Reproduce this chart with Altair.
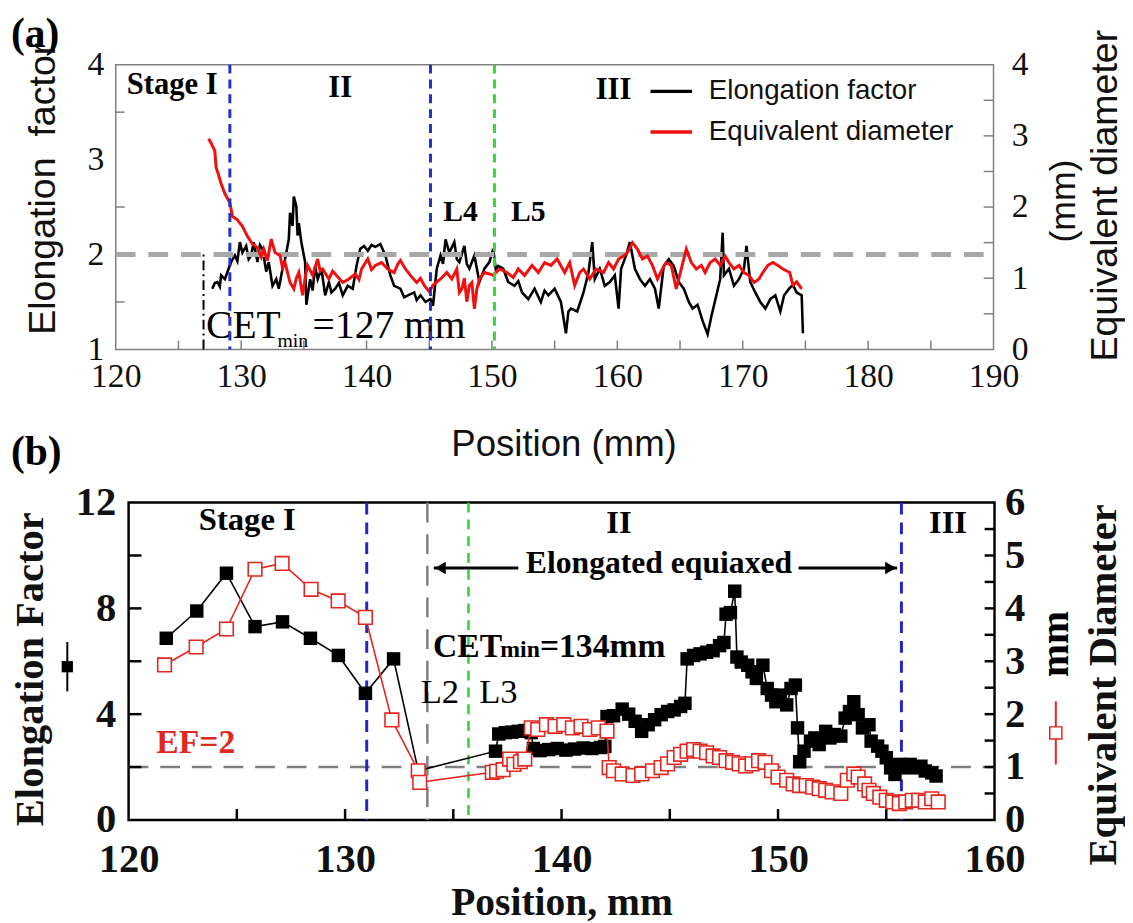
import altair as alt
import pandas as pd

SERIF = "Liberation Serif"
SANS = "Liberation Sans"

# ---------------- Panel (a) data ----------------
# Elongation factor (left axis) : (position mm, EF)
a_ef = [(127.7,1.64),(127.9,1.70),(128.1,1.71),(128.3,1.66),(128.4,1.78),(128.7,1.74),(129.0,1.85),(129.2,1.92),
        (129.5,1.99),(129.7,1.93),(129.9,2.13),(130.1,2.02),(130.4,2.09),(130.6,1.95),(130.8,1.99),(131.0,2.13),
        (131.3,1.92),(131.5,2.10),(131.7,2.06),(132.0,1.82),(132.2,1.92),(132.5,1.67),(132.8,1.74),(133.0,1.64),
        (133.3,1.85),(133.5,1.95),(133.8,2.16),(133.9,2.44),(134.1,2.30),(134.2,2.61),(134.4,2.51),(134.5,2.20),
        (134.6,2.33),(134.8,2.13),(135.1,1.92),(135.2,1.47),(135.5,1.74),(135.7,1.62),(135.9,1.88),(136.1,1.74),
        (136.4,1.85),(136.7,1.57),(137.0,1.71),(137.2,1.60),(137.5,1.64),(137.8,1.70),(138.1,1.57),(138.3,1.62),
        (138.5,1.67),(138.9,1.64),(139.2,1.88),(139.5,2.06),(139.8,2.09),(140.1,2.04),(140.4,2.10),(140.7,2.08),
        (141.1,2.11),(141.5,1.99),(141.9,1.78),(142.2,1.67),(142.7,1.64),(143.0,1.55),(143.3,1.57),(143.8,1.60),
        (144.0,1.52),(144.3,1.57),(144.7,1.50),(145.1,1.53),(145.3,1.46),(145.6,1.85),(145.9,1.99),(146.1,1.90),
        (146.3,2.16),(146.6,2.02),(147.0,2.13),(147.2,1.95),(147.4,1.92),(147.8,2.09),(148.0,1.90),(148.2,1.85),
        (148.6,1.99),(149.0,1.71),(149.4,1.85),(149.8,1.92),(150.1,2.06),(150.3,1.85),(150.5,1.88),(150.9,1.85),
        (151.3,1.71),(151.8,1.67),(152.1,1.72),(152.4,1.60),(152.9,1.53),(153.4,1.64),(153.9,1.50),(154.2,1.62),
        (154.5,1.57),(155.0,1.64),(155.5,1.50),(155.9,1.17),(156.1,1.40),(156.3,1.43),(156.8,1.40),(157.3,1.60),
        (157.7,1.81),(158.0,2.13),(158.2,1.74),(158.6,1.85),(159.0,1.67),(159.4,1.71),(159.8,1.78),(160.1,1.43),
        (160.3,1.85),(160.7,1.99),(161.0,2.13),(161.4,1.85),(161.8,1.74),(162.2,1.67),(162.6,1.74),(163.0,1.64),
        (163.3,1.43),(163.7,1.88),(164.1,1.95),(164.5,1.88),(164.9,1.71),(165.3,1.64),(165.7,1.50),(166.0,1.43),
        (166.4,1.47),(166.8,1.30),(167.2,1.16),(167.5,1.35),(167.9,1.57),(168.2,1.74),(168.4,2.23),(168.5,1.78),
        (168.9,1.85),(169.3,1.67),(169.7,1.74),(170.1,1.85),(170.3,2.09),(170.6,1.71),(171.0,1.60),(171.4,1.50),
        (171.8,1.43),(172.2,1.53),(172.6,1.57),(173.0,1.40),(173.3,1.57),(173.7,1.64),(174.0,1.68),(174.3,1.60),
        (174.7,1.57),(174.8,1.17)]
# Equivalent diameter (right axis, mm)
a_ed = [(127.4,2.96),(127.6,2.90),(127.9,2.79),(128.0,2.56),(128.2,2.45),(128.4,2.33),(128.7,2.19),(129.1,2.06),
        (129.3,1.87),(129.7,1.82),(130.1,1.73),(130.5,1.59),(130.9,1.48),(131.3,1.43),(131.6,1.30),(131.8,1.41),
        (132.1,1.25),(132.4,1.55),(132.7,1.36),(133.1,1.32),(133.3,1.15),(133.5,1.22),(133.9,0.94),(134.2,0.85),
        (134.4,1.00),(134.6,1.08),(134.9,0.76),(135.1,1.00),(135.3,1.18),(135.7,1.04),(136.1,1.27),(136.3,1.10),
        (136.5,1.13),(137.0,0.99),(137.3,1.10),(137.5,1.06),(138.1,0.94),(138.6,0.99),(139.1,1.06),(139.4,0.98),
        (139.6,1.13),(140.1,1.27),(140.4,1.12),(140.7,1.18),(141.2,1.22),(141.7,1.13),(142.2,1.08),(142.5,1.20),
        (142.7,1.25),(143.1,1.13),(143.5,1.04),(144.0,0.94),(144.3,1.00),(144.6,0.90),(145.0,0.81),(145.3,0.90),
        (145.9,0.99),(146.4,1.08),(146.8,0.99),(147.2,1.13),(147.4,0.80),(147.6,0.85),(147.8,1.00),(148.0,0.67),
        (148.2,0.90),(148.4,0.94),(148.6,0.57),(148.8,0.85),(149.0,0.99),(149.4,1.08),(149.8,1.06),(150.1,1.04),
        (150.6,1.13),(151.2,1.08),(151.7,1.01),(152.1,1.13),(152.6,1.04),(153.2,1.18),(153.7,1.08),(154.2,1.22),
        (154.7,1.18),(155.2,1.27),(155.8,1.08),(156.2,1.22),(156.6,0.90),(157.0,1.08),(157.3,1.13),(157.8,0.99),
        (158.3,1.13),(158.9,1.08),(159.3,1.22),(159.7,1.13),(160.1,1.27),(160.5,1.31),(160.8,1.36),(161.2,1.50),
        (161.6,1.41),(162.0,1.27),(162.4,1.31),(162.8,1.18),(163.2,0.99),(163.6,1.13),(163.9,1.22),(164.3,1.18),
        (164.7,0.85),(165.1,1.13),(165.5,1.41),(165.9,1.22),(166.3,1.13),(166.7,1.18),(167.0,1.08),(167.4,1.22),
        (167.8,1.27),(168.2,1.18),(168.6,1.31),(168.9,1.22),(169.3,1.13),(169.7,1.18),(170.1,1.08),(170.5,1.04),
        (170.9,0.94),(171.3,0.99),(171.6,1.08),(172.0,1.18),(172.4,1.22),(172.8,1.18),(173.2,1.13),(173.75,1.08),
        (174.0,0.90),(174.3,0.95),(174.7,0.85)]

a_series = ["Elongation factor", "Equivalent diameter"]
a_x_labels = [120, 130, 140, 150, 160, 170, 180, 190]
a_yl_labels = [1, 2, 3, 4]
a_yr_labels = [0, 1, 2, 3, 4]
a_x_ticks = [125, 130, 135, 140, 145, 150, 155, 160, 165, 170, 175, 180, 185]
a_yl_ticks = [1.5, 2.5, 3.5]
a_yr_ticks = [0.5, 1, 1.5, 2, 2.5, 3, 3.5]
a_blue = [129.1, 145.1]
a_green = [150.2]
a_cet = 127.0
a_ef_ref = 2

# ---------------- Panel (b) data ----------------
b_ef = [(121.74,6.87),(123.15,7.90),(124.52,9.33),(125.84,7.31),(127.11,7.49),(128.40,6.87),(129.69,6.22),
        (130.94,4.79),(132.24,6.09),(133.38,1.86),(136.95,2.60),(137.1,3.25),(137.4,3.30),(137.7,3.32),(138.0,3.35),
        (138.3,3.38),(138.6,3.30),(138.7,2.70),(139.0,2.62),(139.4,2.66),(139.8,2.70),(140.2,2.64),(140.6,2.68),
        (141.0,2.72),(141.4,2.70),(141.8,2.74),(142.0,2.78),(142.1,3.91),(142.4,3.94),(142.8,4.19),(143.1,4.00),
        (143.4,3.73),(143.7,3.35),(144.0,3.60),(144.3,3.79),(144.6,3.98),(144.9,4.10),(145.2,4.16),(145.5,4.29),
        (145.7,4.41),(145.8,6.09),(146.1,6.22),(146.4,6.28),(146.7,6.34),(147.0,6.40),(147.3,6.59),(147.5,6.71),
        (147.6,7.78),(147.8,7.84),(148.0,8.65),(148.1,6.16),(148.3,5.97),(148.6,5.85),(148.8,5.60),(149.0,5.35),
        (149.3,5.85),(149.5,4.97),(149.7,4.72),(149.9,4.47),(150.1,4.72),(150.4,4.35),(150.6,4.97),(150.8,5.10),
        (150.9,3.48),(151.0,2.20),(151.2,2.60),(151.5,2.98),(151.7,3.10),(151.9,2.85),(152.2,3.35),(152.4,3.10),
        (152.6,3.23),(152.9,3.17),(153.1,3.85),(153.3,4.10),(153.5,4.47),(153.7,3.98),(153.9,3.48),(154.2,3.60),
        (154.3,2.98),(154.6,2.79),(154.8,2.60),(155.0,2.35),(155.2,1.97),(155.4,1.72),(155.6,2.10),(155.8,1.97),
        (156.1,2.10),(156.4,1.97),(156.6,2.03),(156.8,1.85),(157.1,1.78),(157.3,1.66)]
b_ed = [(121.66,2.93),(123.12,3.27),(124.52,3.61),(125.84,4.74),(127.09,4.85),(128.43,4.36),(129.68,4.14),
        (130.94,3.83),(132.16,1.89),(133.38,0.93),(133.45,0.71),(136.8,0.90),(137.0,0.92),(137.3,0.95),(137.6,1.15),
        (137.8,1.05),(138.1,1.10),(138.3,1.15),(138.6,1.74),(138.9,1.71),(139.3,1.80),(139.7,1.77),(140.1,1.80),
        (140.5,1.74),(140.9,1.77),(141.3,1.71),(141.7,1.74),(142.1,1.68),(142.2,0.99),(142.4,0.93),(142.8,0.87),
        (143.3,0.84),(143.7,0.87),(144.2,0.93),(144.6,0.99),(144.9,1.06),(145.2,1.18),(145.5,1.24),(145.8,1.30),
        (146.1,1.33),(146.4,1.30),(146.7,1.27),(147.0,1.21),(147.3,1.18),(147.6,1.12),(147.9,1.09),(148.2,1.06),
        (148.5,1.02),(148.8,1.06),(149.1,1.12),(149.4,1.09),(149.7,0.93),(150.0,0.81),(150.4,0.75),(150.7,0.68),
        (151.0,0.65),(151.3,0.65),(151.6,0.62),(151.9,0.59),(152.2,0.56),(152.5,0.53),(152.9,0.50),(153.2,0.75),
        (153.5,0.87),(153.7,0.81),(154.0,0.68),(154.2,0.56),(154.4,0.50),(154.7,0.43),(155.0,0.37),(155.3,0.34),
        (155.6,0.31),(155.9,0.34),(156.2,0.37),(156.5,0.37),(156.8,0.34),(157.1,0.40),(157.4,0.34)]

b_x_labels = [120, 130, 140, 150, 160]
b_yl_labels = [0, 4, 8, 12]
b_yr_labels = [0, 1, 2, 3, 4, 5, 6]
b_x_ticks = [125, 130, 135, 140, 145, 150, 155]
b_yl_ticks = [2, 4, 6, 8, 10]
b_yr_ticks = [0.5, 1, 1.5, 2, 2.5, 3, 3.5, 4, 4.5, 5, 5.5]
b_blue = [131.0, 155.7]
b_green = [135.7]
b_cet = [133.8]
b_ef_ref = 2

# ---------------- geometry ----------------
# both panels share the same group origin; panel (a) frame starts SHIFT px further left
SHIFT = 13
WA, HA = 875, 288          # group width of (a); x range runs from -SHIFT to WA
WB, HB = 876, 321

xa = alt.Scale(domain=[120, 190], range=[-SHIFT, WA], nice=False, zero=False)
yal = alt.Scale(domain=[1, 4], nice=False, zero=False)
yar = alt.Scale(domain=[0, 4], nice=False, zero=False)
xb = alt.Scale(domain=[120, 160], nice=False, zero=False)
ybl = alt.Scale(domain=[0, 12], nice=False, zero=False)
ybr = alt.Scale(domain=[0, 6], nice=False, zero=False)

one = pd.DataFrame({"k": [0]})


def base_axis(**kw):
    d = dict(domain=False, grid=False, ticks=True, tickSize=0, labelFlush=False,
             labelOverlap=False, labelColor="#111", titleColor="#111", format="d")
    d.update(kw)
    return alt.Axis(**d)


AX_XA = base_axis(values=a_x_labels, labelFont=SERIF, labelFontSize=34, labelPadding=11,
                  title="Position (mm)", titleFont=SANS, titleFontSize=37, titleFontWeight="normal",
                  titleX=440, titleY=107, titleAngle=0, titleAlign="center", titleBaseline="alphabetic")
AX_YAL = base_axis(values=a_yl_labels, labelFont=SERIF, labelFontSize=34, labelPadding=12, offset=SHIFT,
                   title="Elongation\u00a0\u00a0factor", titleFont=SANS, titleFontSize=38,
                   titleFontWeight="normal", titleX=-73, titleY=125, titleAngle=270,
                   titleAlign="center", titleBaseline="middle")
AX_YAR = base_axis(orient="right", values=a_yr_labels, labelFont=SERIF, labelFontSize=34,
                   labelPadding=18, title="Equivalent diameter", titleFont=SANS,
                   titleFontSize=38, titleFontWeight="normal", titleX=113, titleY=132, titleAngle=270,
                   titleAlign="center", titleBaseline="middle")
AX_XB = base_axis(values=b_x_labels, labelFont=SERIF, labelFontSize=41, labelFontWeight="bold",
                  labelPadding=20, title="Position, mm", titleFont=SERIF, titleFontSize=40,
                  titleFontWeight="bold", titleX=438, titleY=96, titleAngle=0,
                  titleAlign="center", titleBaseline="alphabetic")
AX_YBL = base_axis(values=b_yl_labels, labelFont=SERIF, labelFontSize=41, labelFontWeight="bold",
                   labelPadding=13, title="Elongation Factor", titleFont=SERIF, titleFontSize=41,
                   titleFontWeight="bold", titleX=-99, titleY=168, titleAngle=270,
                   titleAlign="center", titleBaseline="middle")
AX_YBR = base_axis(orient="right", values=b_yr_labels, labelFont=SERIF, labelFontSize=41,
                   labelFontWeight="bold", labelPadding=10, title="Equivalent Diameter",
                   titleFont=SERIF, titleFontSize=41, titleFontWeight="bold", titleX=110,
                   titleY=184, titleAngle=270, titleAlign="center", titleBaseline="middle")


def X(field, sc, ax):
    return alt.X(field, scale=sc, axis=ax)


def Y(field, sc, ax):
    return alt.Y(field, scale=sc, axis=ax)


def pairs_df(pairs, series=None):
    df = pd.DataFrame(pairs, columns=["pos", "val"])
    if series is not None:
        df["series"] = series
    return df


def labels(texts, xs_, ys_, xs, xax, ys, yax, **kw):
    df = pd.DataFrame({"pos": xs_, "val": ys_, "t": texts})
    return alt.Chart(df).mark_text(**kw).encode(
        x=X("pos:Q", xs, xax), y=Y("val:Q", ys, yax), text="t:N")


def vlines(xs_, xs, xax, **kw):
    return alt.Chart(pd.DataFrame({"pos": xs_})).mark_rule(**kw).encode(x=X("pos:Q", xs, xax))


def hline(yv, x0, x1, xs, xax, ys, yax, **kw):
    return alt.Chart(pd.DataFrame({"pos": [x0], "pos2": [x1], "val": [yv]})).mark_rule(**kw).encode(
        x=X("pos:Q", xs, xax), x2="pos2:Q", y=Y("val:Q", ys, yax))


def xticks(vals, xs, xax, h, length, **kw):
    return alt.Chart(pd.DataFrame({"pos": vals})).mark_rule(**kw).encode(
        x=X("pos:Q", xs, xax), y=alt.value(h), y2=alt.value(h - length))


def yticks(vals, ys, yax, x0, x1, **kw):
    return alt.Chart(pd.DataFrame({"val": vals})).mark_rule(**kw).encode(
        y=Y("val:Q", ys, yax), x=alt.value(x0), x2=alt.value(x1))


def anchor(x, y):
    return alt.Chart(one).mark_text(text=".", fontSize=2, opacity=0, align="left",
                                    baseline="top").encode(x=alt.value(x), y=alt.value(y))


def plabel(t, x, y):
    return alt.Chart(one).mark_text(text=t, font=SERIF, fontSize=42, fontWeight="bold",
                                    align="left", baseline="alphabetic", color="black").encode(
        x=alt.value(x), y=alt.value(y))


# ---------------- Panel (a) ----------------
color_a = alt.Scale(domain=a_series, range=["#000000", "#f01010"])
legend_a = alt.Legend(title=None, orient="none", legendX=526, legendY=4, symbolType="stroke",
                      symbolSize=1764, symbolStrokeWidth=3.5, labelFont=SANS, labelFontSize=28,
                      labelColor="#111", labelOffset=15, labelLimit=600, rowPadding=4, padding=0)

frame_a = alt.Chart(pd.DataFrame({"pos": [120], "pos2": [190], "val": [1], "val2": [4]})).mark_rect(
    fillOpacity=0, stroke="#808080", strokeWidth=1.5).encode(
    x=X("pos:Q", xa, AX_XA), x2="pos2:Q", y=Y("val:Q", yal, AX_YAL), y2="val2:Q")

left_a = alt.layer(
    frame_a,
    alt.Chart(pairs_df(a_ef, a_series[0])).mark_line(strokeWidth=2.6).encode(
        x=X("pos:Q", xa, AX_XA), y=Y("val:Q", yal, AX_YAL),
        color=alt.Color("series:N", scale=color_a, legend=legend_a)),
    hline(a_ef_ref, 120, 190, xa, AX_XA, yal, AX_YAL, color="#a8a8a8", strokeWidth=5, strokeDash=[20, 13]),
    alt.Chart(pd.DataFrame({"pos": [a_cet], "val": [1], "val2": [a_ef_ref]})).mark_rule(
        color="black", strokeWidth=2, strokeDash=[10, 4, 2, 4]).encode(
        x=X("pos:Q", xa, AX_XA), y=Y("val:Q", yal, AX_YAL), y2="val2:Q"),
    xticks(a_x_ticks, xa, AX_XA, HA, 9, color="#808080", strokeWidth=1.5),
    yticks(a_yl_ticks, yal, AX_YAL, -SHIFT, -SHIFT + 9, color="#808080", strokeWidth=1.5),
    labels(["Stage I", "II", "III"], [124.5, 137.9, 159.7], [3.69, 3.66, 3.64], xa, AX_XA, yal, AX_YAL,
           font=SERIF, fontSize=31, fontWeight="bold", baseline="alphabetic", color="black"),
    labels(["L4", "L5"], [147.5, 152.9], [2.35, 2.35], xa, AX_XA, yal, AX_YAL,
           font=SERIF, fontSize=30, fontWeight="bold", baseline="alphabetic", color="black"),
    labels(["CET", "=127 mm"], [127.2, 135.7], [1.115, 1.115], xa, AX_XA, yal, AX_YAL,
           font=SERIF, fontSize=40, align="left", baseline="alphabetic", color="black"),
    labels(["min"], [132.9], [1.02], xa, AX_XA, yal, AX_YAL,
           font=SERIF, fontSize=20, align="left", baseline="alphabetic", color="black"),
    anchor(-119, -52),
    plabel("(a)", -119, -18),
    plabel("(b)", -119, 405),
)

right_a = alt.layer(
    alt.Chart(pairs_df(a_ed, a_series[1])).mark_line(strokeWidth=3).encode(
        x=X("pos:Q", xa, AX_XA), y=Y("val:Q", yar, AX_YAR),
        color=alt.Color("series:N", scale=color_a, legend=legend_a)),
    yticks(a_yr_ticks, yar, AX_YAR, WA, WA - 10, color="#808080", strokeWidth=1.5),
    vlines(a_blue, xa, AX_XA, color="#2230c8", strokeWidth=3, strokeDash=[9, 6]),
    vlines(a_green, xa, AX_XA, color="#3cd23c", strokeWidth=3, strokeDash=[9, 6]),
    alt.Chart(one).mark_text(text="(mm)", font=SANS, fontSize=36, angle=270, align="center",
                             baseline="middle", color="#111").encode(
        x=alt.value(WA + 71), y=alt.value(138)),
)

panel_a = alt.layer(left_a, right_a).resolve_scale(y="independent").properties(
    width=WA, height=HA, view=alt.ViewBackground(stroke=None))

# ---------------- Panel (b) ----------------
df_b_ef = pairs_df(b_ef)
df_b_ed = pairs_df(b_ed)
RED_B = "#e3261f"

left_b = alt.layer(
    hline(b_ef_ref, 120, 160, xb, AX_XB, ybl, AX_YBL, color="#7f7f7f", strokeWidth=2.5, strokeDash=[20, 12]),
    vlines(b_cet, xb, AX_XB, color="#7f7f7f", strokeWidth=2.5, strokeDash=[20, 12]),
    vlines(b_blue, xb, AX_XB, color="#2424c8", strokeWidth=3, strokeDash=[12, 8]),
    vlines(b_green, xb, AX_XB, color="#35cf35", strokeWidth=2.5, strokeDash=[10, 7]),
    alt.Chart(df_b_ef).mark_line(color="black", strokeWidth=1.6).encode(
        x=X("pos:Q", xb, AX_XB), y=Y("val:Q", ybl, AX_YBL)),
    alt.Chart(df_b_ef).mark_square(color="black", size=185, opacity=1).encode(
        x=X("pos:Q", xb, AX_XB), y=Y("val:Q", ybl, AX_YBL)),
    xticks(b_x_ticks, xb, AX_XB, HB, 11, color="black", strokeWidth=2.5),
    yticks(b_yl_ticks, ybl, AX_YBL, 0, 13, color="black", strokeWidth=2.5),
    # arrow "Elongated equiaxed"
    alt.Chart(pd.DataFrame({"pos": [134.1, 150.95], "pos2": [138.0, 155.5], "val": [9.53, 9.53]})).mark_rule(
        color="black", strokeWidth=3).encode(
        x=X("pos:Q", xb, AX_XB), x2="pos2:Q", y=Y("val:Q", ybl, AX_YBL)),
    alt.Chart(pd.DataFrame({"pos": [134.4], "val": [9.53]})).mark_point(
        shape="triangle-left", filled=True, color="black", size=160, opacity=1).encode(
        x=X("pos:Q", xb, AX_XB), y=Y("val:Q", ybl, AX_YBL)),
    alt.Chart(pd.DataFrame({"pos": [155.2], "val": [9.53]})).mark_point(
        shape="triangle-right", filled=True, color="black", size=160, opacity=1).encode(
        x=X("pos:Q", xb, AX_XB), y=Y("val:Q", ybl, AX_YBL)),
    labels(["Elongated equiaxed"], [144.5], [9.35], xb, AX_XB, ybl, AX_YBL,
           font=SERIF, fontSize=32, fontWeight="bold", baseline="alphabetic", color="black"),
    labels(["Stage I", "II", "III"], [125.48, 142.65, 157.85], [10.95, 10.84, 10.84], xb, AX_XB, ybl, AX_YBL,
           font=SERIF, fontSize=33, fontWeight="bold", baseline="alphabetic", color="black"),
    labels(["CET", "=134mm"], [134.06, 139.0], [6.17, 6.17], xb, AX_XB, ybl, AX_YBL,
           font=SERIF, fontSize=34, fontWeight="bold", align="left", baseline="alphabetic", color="black"),
    labels(["min"], [137.17], [6.17], xb, AX_XB, ybl, AX_YBL,
           font=SERIF, fontSize=24, fontWeight="bold", align="left", baseline="alphabetic", color="black"),
    labels(["L2", "L3"], [134.38, 137.08], [4.41, 4.41], xb, AX_XB, ybl, AX_YBL,
           font=SERIF, fontSize=35, baseline="alphabetic", color="black"),
    labels(["EF=2"], [121.28], [2.54], xb, AX_XB, ybl, AX_YBL,
           font=SERIF, fontSize=34, fontWeight="bold", align="left", baseline="alphabetic", color=RED_B),
    # key symbol beside the left title
    alt.Chart(one).mark_rule(color="black", strokeWidth=2).encode(
        x=alt.value(-62), y=alt.value(141), y2=alt.value(191)),
    alt.Chart(one).mark_square(color="black", size=130, opacity=1).encode(
        x=alt.value(-62), y=alt.value(166)),
    anchor(-119, -28),
)

right_b = alt.layer(
    alt.Chart(df_b_ed).mark_line(color=RED_B, strokeWidth=1.6).encode(
        x=X("pos:Q", xb, AX_XB), y=Y("val:Q", ybr, AX_YBR)),
    alt.Chart(df_b_ed).mark_square(fill="white", stroke=RED_B, strokeWidth=1.6, size=190,
                                   opacity=1, filled=True).encode(
        x=X("pos:Q", xb, AX_XB), y=Y("val:Q", ybr, AX_YBR)),
    yticks(b_yr_ticks, ybr, AX_YBR, WB, WB - 10, color="black", strokeWidth=2.5),
    alt.Chart(one).mark_text(text="mm", font=SERIF, fontSize=40, fontWeight="bold", angle=270,
                             align="center", baseline="middle", color="black").encode(
        x=alt.value(WB + 62), y=alt.value(143)),
    alt.Chart(one).mark_rule(color=RED_B, strokeWidth=2).encode(
        x=alt.value(WB + 62), y=alt.value(201), y2=alt.value(265)),
    alt.Chart(one).mark_square(fill="white", stroke=RED_B, strokeWidth=1.5, size=150,
                               opacity=1, filled=True).encode(
        x=alt.value(WB + 62), y=alt.value(233)),
)

panel_b = alt.layer(left_b, right_b).resolve_scale(y="independent").properties(
    width=WB, height=HB, view=alt.ViewBackground(stroke="black", strokeWidth=2.5))

chart = alt.vconcat(panel_a, panel_b, spacing=0).resolve_scale(
    color="independent").properties(padding=0, background="white").configure_view(stroke=None)

chart.save("out.html", embed_options={"renderer": "svg", "actions": False})
